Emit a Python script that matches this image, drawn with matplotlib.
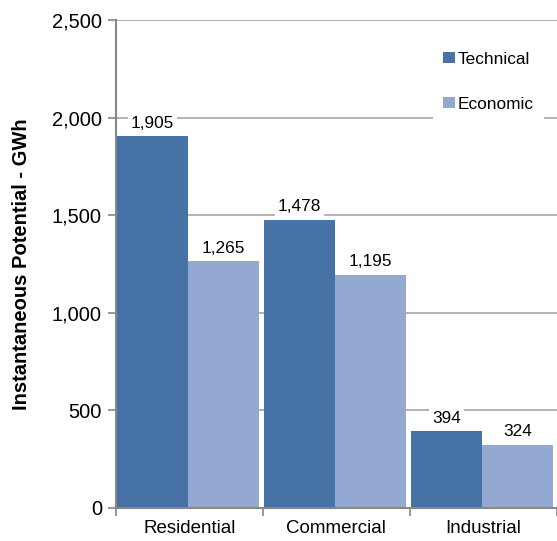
import numpy as np
import matplotlib
matplotlib.use('Agg')
import matplotlib.pyplot as plt
from matplotlib.ticker import FuncFormatter, FixedLocator

plt.rcParams['font.family'] = ['Liberation Sans', 'DejaVu Sans']

# potential by sector, GWh
sectors = ['Residential', 'Commercial', 'Industrial']
technical = [1905, 1478, 394]
economic = [1265, 1195, 324]
series_names = ['Technical', 'Economic']
colors = ['#4672a6', '#94a9d1']

fig = plt.figure(figsize=(5.57, 5.41), dpi=100)
ax = fig.add_axes([0.208, 0.061, 0.792, 0.902])

x = np.arange(len(sectors))
w = 0.483
b1 = ax.bar(x - w / 2 - 0.01, technical, w, color=colors[0], label=series_names[0], zorder=2)
b2 = ax.bar(x + w / 2 - 0.01, economic, w, color=colors[1], label=series_names[1], zorder=2)

for bars, vals in ((b1, technical), (b2, economic)):
    for r, v in zip(bars, vals):
        ax.annotate(f'{v:,}', (r.get_x() + r.get_width() / 2, v), xytext=(0, 4),
                    textcoords='offset points', ha='center', va='bottom', fontsize=12.4,
                    bbox=dict(boxstyle='square,pad=0.15', fc='white', ec='none'), zorder=3)

ax.set_xlim(-0.5, 2.5)
ax.set_ylim(0, 2500)
ax.set_yticks(np.arange(0, 2501, 500))
ax.yaxis.set_major_formatter(FuncFormatter(lambda v, p: f'{int(v):,}'))
ax.grid(axis='y', color='#a6a6a6', linewidth=1.2, zorder=0)

ax.xaxis.set_major_locator(FixedLocator([-0.5, 0.5, 1.5, 2.5]))
ax.xaxis.set_major_formatter(FuncFormatter(lambda v, p: ''))
ax.set_xticks(x, minor=True)
ax.set_xticklabels(sectors, minor=True)
ax.tick_params(axis='x', which='minor', length=0, labelsize=13.5, pad=9)
ax.tick_params(axis='x', which='major', length=6, color='#888888', width=1.2)
ax.tick_params(axis='y', length=6, color='#888888', width=1.2, labelsize=14.5, pad=4)

for s in ('top', 'right'):
    ax.spines[s].set_visible(False)
for s in ('left', 'bottom'):
    ax.spines[s].set_color('#888888')
    ax.spines[s].set_linewidth(1.5)

ax.set_ylabel('Instantaneous Potential - GWh', fontsize=14.5, fontweight='bold', labelpad=15)

# white legend box sits over the 2,000 gridline
leg = ax.legend(loc='lower left', bbox_to_anchor=(0.719, 0.791), frameon=True, fancybox=False,
                edgecolor='none', facecolor='white', framealpha=1, fontsize=12.4,
                labelspacing=1.75, handlelength=0.65, handleheight=0.65, handletextpad=0.2,
                borderpad=0.6, borderaxespad=0)
leg.set_zorder(4)

fig.savefig('out.png', dpi=100)
